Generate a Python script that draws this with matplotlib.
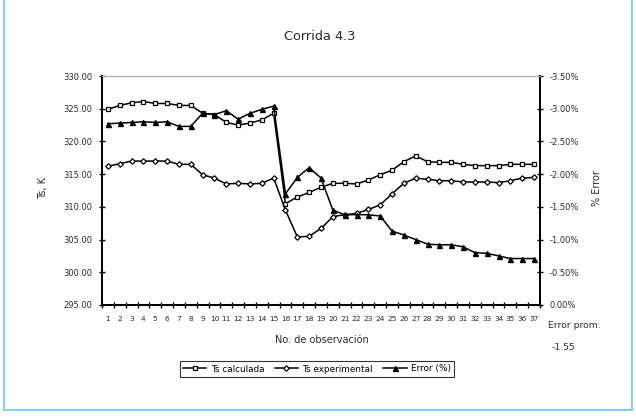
import matplotlib
matplotlib.use("Agg")
import matplotlib.pyplot as plt
from matplotlib.lines import Line2D
from matplotlib.ticker import FixedLocator, FuncFormatter

plt.rcParams['font.family'] = ['DejaVu Sans']

# Observation numbers
obs = list(range(1, 38))

# Surface temperature, calculated (K)
ts_calc = [324.9, 325.5, 325.9, 326.1, 325.8, 325.8, 325.5, 325.5, 324.3, 324.1,
           322.9, 322.5, 322.8, 323.3, 324.3, 310.5, 311.5, 312.2, 313.0, 313.6,
           313.6, 313.5, 314.1, 314.9, 315.6, 316.9, 317.8, 316.9, 316.8, 316.8,
           316.5, 316.3, 316.3, 316.3, 316.5, 316.5, 316.5]

# Surface temperature, experimental (K)
ts_exp = [316.2, 316.6, 317.0, 317.0, 317.0, 317.0, 316.5, 316.5, 314.9, 314.4,
          313.5, 313.6, 313.5, 313.6, 314.4, 309.5, 305.4, 305.5, 306.7, 308.5,
          308.8, 309.0, 309.6, 310.3, 312.0, 313.6, 314.4, 314.2, 314.0, 314.0,
          313.8, 313.8, 313.8, 313.7, 314.0, 314.4, 314.5]

# Relative error (%)
error_pct = [-2.77, -2.78, -2.79, -2.80, -2.79, -2.80, -2.73, -2.73, -2.93, -2.91,
             -2.97, -2.84, -2.93, -2.99, -3.04, -1.70, -1.95, -2.10, -1.94, -1.45,
             -1.38, -1.38, -1.38, -1.36, -1.13, -1.07, -1.00, -0.93, -0.92, -0.92,
             -0.89, -0.80, -0.79, -0.75, -0.71, -0.71, -0.71]

left_ticks = [295, 300, 305, 310, 315, 320, 325, 330]
right_ticks = [0.0, -0.5, -1.0, -1.5, -2.0, -2.5, -3.0, -3.5]
avg_error = "-1.55"

W, H = 636, 418
fig = plt.figure(figsize=(W / 100, H / 100), dpi=100)
fig.patch.set_facecolor("white")

ax = fig.add_axes([102 / W, 1 - 305 / H, (540 - 102) / W, (305 - 76) / H])
ax2 = ax.twinx()

txt = "#2a2a2a"
fs_tick = 6.0
fs_lab = 7.0

h1, = ax.plot(obs, ts_calc, color="black", lw=1.1, marker="s", ms=3.4,
              mfc="white", mec="black", mew=0.9, label="Ts calculada")
h2, = ax.plot(obs, ts_exp, color="black", lw=1.1, marker="D", ms=2.8,
              mfc="white", mec="black", mew=0.9, label="Ts experimental")
h3, = ax2.plot(obs, error_pct, color="black", lw=1.1, marker="^", ms=3.6,
               mfc="black", mec="black", label="Error (%)")

ax.set_xlim(0.5, 37.5)
ax.set_ylim(295, 330)
ax2.set_ylim(0, -3.5)

ax.yaxis.set_major_locator(FixedLocator(left_ticks))
ax.yaxis.set_major_formatter(FuncFormatter(lambda v, p: f"{v:.2f}"))
ax2.yaxis.set_major_locator(FixedLocator(right_ticks))
ax2.yaxis.set_major_formatter(FuncFormatter(lambda v, p: f"{v:.2f}%"))

# category ticks sit between observations, labels at each observation
ax.xaxis.set_major_locator(FixedLocator([i + 0.5 for i in range(0, 38)]))
ax.xaxis.set_major_formatter(FuncFormatter(lambda v, p: ""))
ax.xaxis.set_minor_locator(FixedLocator(obs))
ax.xaxis.set_minor_formatter(FuncFormatter(lambda v, p: f"{int(round(v))}"))
ax.tick_params(axis="x", which="major", direction="inout", length=4, width=1.0)
ax.tick_params(axis="x", which="minor", length=0, labelsize=5.3, colors=txt, pad=8)
ax.tick_params(axis="y", direction="inout", length=4, width=1.0, labelsize=fs_tick,
               labelcolor=txt, pad=5)
ax2.tick_params(axis="y", direction="inout", length=4, width=1.0, labelsize=fs_tick,
                labelcolor=txt, pad=5)

for a in (ax, ax2):
    a.spines["top"].set_color("#b0b0b0")
    a.spines["top"].set_linewidth(0.8)
    for s in ("left", "right", "bottom"):
        a.spines[s].set_linewidth(1.3)
        a.spines[s].set_color("black")

fig.text(320 / W, 1 - 36 / H, "Corrida 4.3", ha="center", va="center",
         fontsize=9.3, color=txt)
fig.text(43 / W, 1 - 188 / H, "Ts, K", ha="center", va="center", rotation=90,
         fontsize=fs_lab, color=txt)
fig.text(597 / W, 1 - 188 / H, "% Error", ha="center", va="center", rotation=90,
         fontsize=fs_lab, color=txt)
fig.text(322 / W, 1 - 340 / H, "No. de observación", ha="center", va="center",
         fontsize=fs_lab, color=txt)
fig.text(548 / W, 1 - 326 / H, "Error prom.", ha="left", va="center",
         fontsize=fs_lab - 0.3, color=txt)
fig.text(552 / W, 1 - 348 / H, avg_error, ha="left", va="center",
         fontsize=fs_lab - 0.3, color=txt)

leg = fig.legend(handles=[h1, h2, h3], loc="center", ncol=3,
                 bbox_to_anchor=(317 / W, 1 - 369 / H), fontsize=6.4,
                 frameon=True, fancybox=False, edgecolor="black",
                 handlelength=2.6, columnspacing=1.2, handletextpad=0.5,
                 borderpad=0.35)
leg.get_frame().set_linewidth(0.8)

# light blue frame around the chart
blue = "#7fd0f0"
fig.add_artist(Line2D([4 / W, 4 / W], [1 - 410 / H, 1.0], color=blue, lw=1.5))
fig.add_artist(Line2D([632 / W, 632 / W], [1 - 410 / H, 1.0], color=blue, lw=1.5))
fig.add_artist(Line2D([4 / W, 632 / W], [1 - 410 / H, 1 - 410 / H], color=blue, lw=1.5))

fig.savefig("out.png", dpi=100)
